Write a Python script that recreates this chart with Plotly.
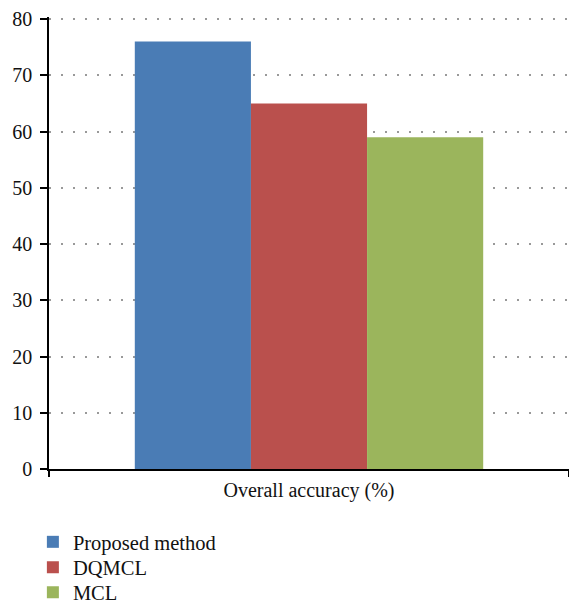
import plotly.graph_objects as go

categories = ["Overall accuracy (%)"]
methods = ["Proposed method", "DQMCL", "MCL"]
accuracy = [76, 65, 59]
colors = ["#4A7CB5", "#BA504D", "#9BB55C"]
y_ticks = [0, 10, 20, 30, 40, 50, 60, 70, 80]

FONT = "Liberation Serif"
legend_ids = ["legend", "legend2", "legend3"]
legend_y = [-0.1615, -0.218, -0.273]

fig = go.Figure()
for name, val, col, lg in zip(methods, accuracy, colors, legend_ids):
    fig.add_trace(go.Bar(
        x=categories, y=[val], name=name, legend=lg,
        marker=dict(color=col, line=dict(width=0)),
    ))

legend_style = dict(
    x=-0.031, xanchor="left", yanchor="middle",
    font=dict(family=FONT, size=20.5, color="#111"),
    bgcolor="rgba(0,0,0,0)",
)

fig.update_layout(
    width=569, height=605,
    margin=dict(l=49, r=0, t=17, b=136, autoexpand=False),
    paper_bgcolor="white", plot_bgcolor="white",
    barmode="group", bargap=0.33, bargroupgap=0,
    font=dict(family=FONT, size=20, color="#111"),
    showlegend=True,
    legend=dict(legend_style, y=legend_y[0]),
    legend2=dict(legend_style, y=legend_y[1]),
    legend3=dict(legend_style, y=legend_y[2]),
    xaxis=dict(
        range=[-0.5, 0.5], showline=True, linecolor="black", linewidth=1.5,
        ticks="outside", tickson="boundaries", ticklen=6, tickcolor="black",
        tickwidth=1.5, showgrid=False, tickfont=dict(family=FONT, size=20),
        ticklabelstandoff=2,
    ),
    yaxis=dict(
        range=[0, 80.36], tickvals=y_ticks, showline=True, linecolor="black",
        linewidth=1.5, ticks="outside", ticklen=7, tickcolor="black",
        tickwidth=1.5, showgrid=True, gridcolor="#999999", gridwidth=1.5,
        griddash="2px,10px", zeroline=False, ticklabelstandoff=4,
        tickfont=dict(family=FONT, size=20),
    ),
)

fig.write_html("out.html")
